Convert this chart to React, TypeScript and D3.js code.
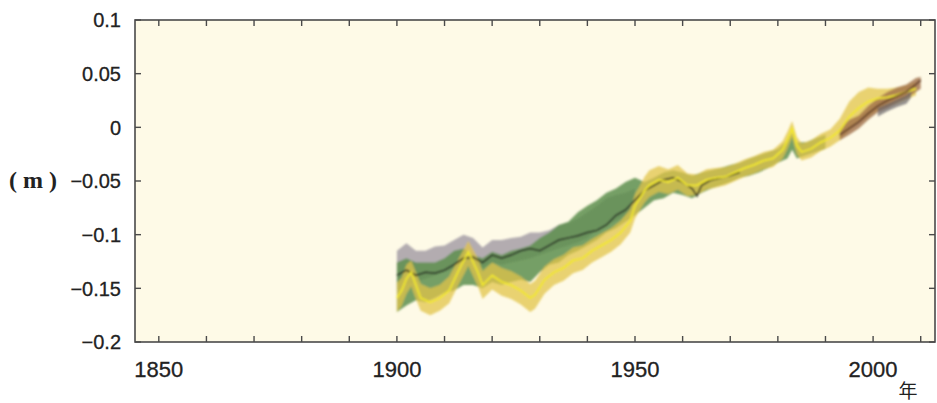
import * as d3 from "d3";

const W = 937;
const H = 403;

// y axis ticks and labels
const yTicks = [0.1, 0.05, 0, -0.05, -0.1, -0.15, -0.2];
const yLabels = ["0.1", "0.05", "0", "−0.05", "−0.1", "−0.15", "−0.2"];
const xMinor = [1850, 1860, 1870, 1880, 1890, 1900, 1910, 1920, 1930, 1940, 1950, 1960, 1970, 1980, 1990, 2000, 2010];
const xLabels = [1850, 1900, 1950, 2000];

// gray band
const grayYears = [1900, 1902, 1904, 1906, 1908, 1910, 1912, 1914, 1916, 1918, 1920, 1922, 1924, 1926, 1928, 1930, 1932, 1934, 1936, 1938, 1940, 1942, 1944, 1946, 1948, 1950];
const grayHi = [-0.115, -0.108, -0.115, -0.115, -0.111, -0.11, -0.105, -0.1, -0.103, -0.112, -0.105, -0.105, -0.103, -0.102, -0.098, -0.098, -0.096, -0.091, -0.089, -0.085, -0.079, -0.073, -0.066, -0.063, -0.061, -0.057];
const grayLo = [-0.152, -0.147, -0.144, -0.141, -0.138, -0.135, -0.131, -0.126, -0.126, -0.131, -0.126, -0.128, -0.126, -0.124, -0.122, -0.119, -0.116, -0.113, -0.11, -0.107, -0.103, -0.096, -0.091, -0.087, -0.082, -0.077];

// green band
const greenYears = [1900, 1902, 1904, 1906, 1908, 1910, 1912, 1914, 1916, 1918, 1920, 1922, 1924, 1926, 1928, 1930, 1932, 1934, 1936, 1938, 1940, 1942, 1944, 1946, 1948, 1950, 1952, 1954, 1956, 1958, 1960, 1962, 1964, 1966, 1968, 1970, 1972, 1974, 1976, 1978, 1980, 1982, 1983, 1984, 1986, 1988, 1990];
const greenHi = [-0.126, -0.122, -0.126, -0.126, -0.126, -0.122, -0.115, -0.113, -0.119, -0.122, -0.116, -0.119, -0.115, -0.113, -0.11, -0.103, -0.098, -0.091, -0.088, -0.079, -0.073, -0.068, -0.061, -0.057, -0.051, -0.047, -0.051, -0.047, -0.042, -0.04, -0.042, -0.045, -0.042, -0.04, -0.038, -0.035, -0.033, -0.029, -0.026, -0.023, -0.02, -0.012, -0.005, -0.014, -0.014, -0.01, -0.007];
const greenLo = [-0.172, -0.166, -0.161, -0.163, -0.159, -0.154, -0.152, -0.147, -0.147, -0.15, -0.144, -0.147, -0.144, -0.142, -0.144, -0.135, -0.128, -0.126, -0.119, -0.115, -0.11, -0.105, -0.098, -0.094, -0.088, -0.082, -0.075, -0.068, -0.066, -0.061, -0.063, -0.066, -0.061, -0.057, -0.054, -0.051, -0.047, -0.045, -0.042, -0.038, -0.033, -0.029, -0.021, -0.029, -0.026, -0.023, -0.02];

// yellow series (line and band)
const yelYears = [1900, 1901, 1902, 1903, 1904, 1905, 1907, 1909, 1911, 1913, 1915, 1917, 1918, 1920, 1922, 1924, 1926, 1928, 1929, 1931, 1933, 1935, 1937, 1939, 1941, 1943, 1945, 1947, 1949, 1950, 1951, 1952, 1953, 1955, 1957, 1959, 1961, 1963, 1965, 1967, 1969, 1971, 1973, 1975, 1977, 1979, 1981, 1982, 1983, 1984, 1985, 1987, 1989, 1991, 1993, 1995, 1997, 1999, 2001, 2003, 2005, 2007, 2009];
const yelMid = [-0.159, -0.152, -0.141, -0.135, -0.147, -0.159, -0.163, -0.159, -0.152, -0.133, -0.116, -0.135, -0.147, -0.138, -0.144, -0.147, -0.152, -0.159, -0.156, -0.142, -0.135, -0.131, -0.124, -0.122, -0.115, -0.11, -0.105, -0.098, -0.087, -0.073, -0.066, -0.059, -0.054, -0.049, -0.051, -0.047, -0.054, -0.054, -0.049, -0.047, -0.046, -0.042, -0.038, -0.035, -0.031, -0.029, -0.021, -0.012, -0.001, -0.017, -0.023, -0.02, -0.014, -0.01, -0.003, 0.01, 0.018, 0.024, 0.027, 0.028, 0.03, 0.033, 0.036];
const yelHi = [-0.145, -0.14, -0.128, -0.124, -0.135, -0.146, -0.15, -0.147, -0.139, -0.122, -0.106, -0.122, -0.134, -0.126, -0.131, -0.134, -0.139, -0.146, -0.143, -0.13, -0.123, -0.119, -0.112, -0.11, -0.104, -0.099, -0.094, -0.087, -0.076, -0.062, -0.055, -0.046, -0.04, -0.036, -0.039, -0.035, -0.043, -0.044, -0.039, -0.038, -0.037, -0.034, -0.03, -0.027, -0.023, -0.021, -0.013, -0.004, 0.006, -0.009, -0.015, -0.012, -0.006, -0.002, 0.008, 0.024, 0.033, 0.037, 0.036, 0.036, 0.037, 0.039, 0.042];
const yelLo = [-0.172, -0.166, -0.155, -0.148, -0.16, -0.171, -0.175, -0.171, -0.164, -0.146, -0.129, -0.148, -0.16, -0.151, -0.157, -0.16, -0.165, -0.172, -0.169, -0.155, -0.147, -0.143, -0.136, -0.133, -0.126, -0.121, -0.116, -0.109, -0.098, -0.085, -0.077, -0.07, -0.065, -0.06, -0.062, -0.058, -0.064, -0.063, -0.058, -0.056, -0.054, -0.05, -0.046, -0.043, -0.039, -0.037, -0.029, -0.02, -0.009, -0.025, -0.031, -0.028, -0.022, -0.018, -0.012, -0.003, 0.004, 0.01, 0.016, 0.019, 0.022, 0.026, 0.03];

// black line
const blackYears = [1900, 1902, 1904, 1906, 1908, 1910, 1912, 1914, 1916, 1918, 1920, 1922, 1924, 1926, 1928, 1930, 1932, 1934, 1936, 1938, 1940, 1942, 1944, 1946, 1948, 1950, 1952, 1954, 1956, 1958, 1960, 1962, 1963, 1964, 1966, 1968, 1970, 1972];
const blackVals = [-0.138, -0.133, -0.138, -0.135, -0.136, -0.133, -0.128, -0.122, -0.121, -0.126, -0.119, -0.122, -0.119, -0.115, -0.113, -0.115, -0.11, -0.105, -0.103, -0.101, -0.098, -0.096, -0.091, -0.082, -0.077, -0.068, -0.059, -0.054, -0.049, -0.047, -0.051, -0.057, -0.064, -0.054, -0.049, -0.047, -0.045, -0.042];

// satellite era
const satYears = [1993, 1995, 1997, 1999, 2001, 2003, 2005, 2007, 2009, 2010];
const satHi = [-0.001, 0.007, 0.011, 0.02, 0.027, 0.033, 0.037, 0.04, 0.046, 0.047];
const satLo = [-0.012, -0.007, -0.001, 0.007, 0.014, 0.018, 0.023, 0.027, 0.033, 0.036];
const satMid = [-0.007, -0.001, 0.005, 0.013, 0.02, 0.025, 0.029, 0.033, 0.04, 0.044];
const darkYears = [2001, 2003, 2005, 2007, 2008];
const darkHi = [0.018, 0.022, 0.026, 0.03, 0.034];
const darkLo = [0.01, 0.015, 0.019, 0.022, 0.028];

const left = 135;
const right = 935;
const top = 20;
const bottom = 342;

export default function App() {
  const x = d3.scaleLinear().domain([1845, 2013]).range([left, right]);
  const y = d3.scaleLinear().domain([-0.2, 0.1]).range([bottom, top]);

  const band = (yrs: number[], hi: number[], lo: number[]) =>
    d3
      .area<number>()
      .x((_, i) => x(yrs[i]))
      .y0((_, i) => y(lo[i]))
      .y1((d) => y(d))(hi) || "";

  const line = (yrs: number[], vals: number[]) =>
    d3
      .line<number>()
      .x((_, i) => x(yrs[i]))
      .y((d) => y(d))(vals) || "";

  const axisColor = "#4a4a4a";
  const tickLen = 6;
  const numFont = "'Liberation Sans', Arial, sans-serif";

  return (
    <div style={{ position: "absolute", left: 0, top: 0 }}>
      <svg width={W} height={H} style={{ display: "block", background: "#fff" }}>
        <defs>
          <filter id="soft" x="-5%" y="-5%" width="110%" height="110%">
            <feGaussianBlur stdDeviation="0.9" />
          </filter>
        </defs>
        <rect x={left} y={top} width={right - left} height={bottom - top} fill="#fefae7" />

        <g filter="url(#soft)">
          <path d={band(grayYears, grayHi, grayLo)} fill="#aba4ab" opacity={0.9} />
          <path d={band(greenYears, greenHi, greenLo)} fill="#5e8f4f" opacity={0.85} />
          <path d={band(yelYears, yelHi, yelLo)} fill="#e2c449" opacity={0.75} />
          <path d={band(satYears, satHi, satLo)} fill="#a0704a" opacity={0.8} />
          <path d={band(darkYears, darkHi, darkLo)} fill="#6a6468" opacity={0.7} />
          <path d={line(blackYears, blackVals)} fill="none" stroke="#1c1c1c" strokeWidth={1.5} />
          <path d={line(yelYears, yelMid)} fill="none" stroke="#f2e82c" strokeWidth={1.8} />
          <path d={line(satYears, satMid)} fill="none" stroke="#5a3626" strokeWidth={1.6} />
        </g>

        {/* frame */}
        <rect x={left} y={top} width={right - left} height={bottom - top} fill="none" stroke={axisColor} strokeWidth={1.6} />

        {/* x ticks, bottom and top */}
        {xMinor.map((t) => (
          <g key={"xt" + t}>
            <line x1={x(t)} x2={x(t)} y1={bottom} y2={bottom - tickLen} stroke={axisColor} strokeWidth={1.4} />
            <line x1={x(t)} x2={x(t)} y1={top} y2={top + tickLen} stroke={axisColor} strokeWidth={1.4} />
          </g>
        ))}
        {/* y ticks, left and right */}
        {yTicks.map((t) => (
          <g key={"yt" + t}>
            <line x1={left} x2={left + tickLen} y1={y(t)} y2={y(t)} stroke={axisColor} strokeWidth={1.4} />
            <line x1={right} x2={right - tickLen} y1={y(t)} y2={y(t)} stroke={axisColor} strokeWidth={1.4} />
          </g>
        ))}

        {yTicks.map((t, i) => (
          <text key={"yl" + t} x={121} y={y(t)} dy="0.36em" textAnchor="end" fontFamily={numFont} fontSize={20} fill="#222" stroke="#222" strokeWidth={0.3}>
            {yLabels[i]}
          </text>
        ))}

        {xLabels.map((t) => (
          <text key={"xl" + t} x={x(t)} y={377} textAnchor="middle" fontFamily={numFont} fontSize={22} fill="#222" stroke="#222" strokeWidth={0.3}>
            {t}
          </text>
        ))}

        <text x={9} y={188} fontFamily="'Liberation Serif', serif" fontWeight="bold" fontSize={24} fill="#222">
          ( m )
        </text>
        <text x={908} y={398} textAnchor="middle" fontFamily="'Noto Sans CJK JP', sans-serif" fontSize={19} fill="#222">
          年
        </text>
      </svg>
    </div>
  );
}
